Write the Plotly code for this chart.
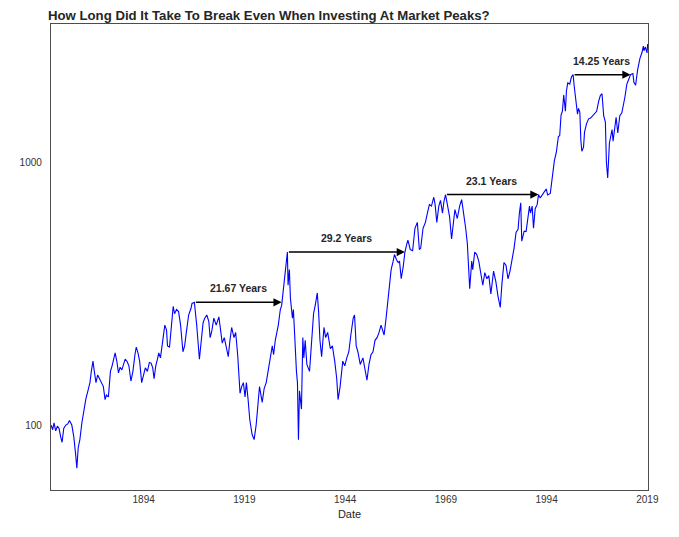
import math
import plotly.graph_objects as go

dates_1871 = ["1871-01", "1871-06", "1871-10", "1872-03", "1872-08", "1873-01", "1873-06", "1873-10",
              "1874-03", "1874-09", "1875-03", "1875-08", "1876-03", "1876-09", "1877-03", "1877-06",
              "1877-10", "1878-03", "1878-09", "1879-03", "1879-09", "1880-03", "1880-09", "1881-01",
              "1881-06", "1881-10", "1882-03", "1882-08", "1883-01", "1883-06", "1884-01", "1884-06",
              "1884-10", "1885-04", "1885-10", "1886-03", "1886-08", "1886-12", "1887-05", "1887-10",
              "1888-03", "1888-08", "1889-01", "1889-06", "1889-12", "1890-05", "1890-11", "1891-05",
              "1891-11", "1892-03", "1892-08", "1893-01", "1893-07", "1893-12", "1894-06", "1894-12",
              "1895-06", "1895-11", "1896-04", "1896-08", "1897-01", "1897-06", "1897-10", "1898-03",
              "1898-08", "1898-12", "1899-04", "1899-09", "1899-12", "1900-06", "1900-12"]
price_1871 = [100, 96, 102, 95, 99, 97, 90, 86,
              97, 100, 101, 104, 100, 90, 76, 68.5,
              82, 88, 102, 115, 126, 135, 145, 160,
              175, 160, 145, 155, 150, 147, 140, 125,
              130, 128, 160, 168, 180, 188, 175, 158,
              166, 162, 170, 178, 174, 168, 147, 160,
              185, 198, 188, 175, 145, 155, 165, 160,
              173, 172, 165, 150, 168, 178, 188, 180,
              205, 225, 240, 230, 200, 198, 245]

dates_1901 = ["1901-05", "1901-09", "1902-03", "1902-09", "1903-03", "1903-10", "1904-03", "1904-09",
              "1905-03", "1905-10", "1906-01", "1906-08", "1907-03", "1907-11", "1908-04", "1908-10",
              "1909-03", "1909-09", "1910-03", "1910-07", "1910-12", "1911-06", "1912-01", "1912-09",
              "1913-03", "1913-07", "1914-01", "1914-07", "1915-01", "1915-06", "1915-11", "1916-06",
              "1916-11", "1917-05", "1917-12", "1918-05", "1918-10", "1919-03", "1919-07", "1919-12",
              "1920-05", "1920-12", "1921-06", "1921-12", "1922-06", "1922-10", "1923-06", "1923-12",
              "1924-06", "1924-12", "1925-06", "1925-12", "1926-04", "1926-09", "1927-06", "1927-12",
              "1928-04", "1928-10", "1929-02", "1929-09", "1929-11", "1930-03", "1930-06", "1930-12",
              "1931-03", "1931-06", "1931-12", "1932-03", "1932-06", "1932-09", "1932-12", "1933-03",
              "1933-07", "1933-10", "1934-02", "1934-07", "1935-03", "1935-08", "1936-03", "1936-09",
              "1937-02", "1937-06", "1937-10", "1938-03", "1938-10", "1939-03", "1939-09", "1940-05",
              "1940-11", "1941-06", "1941-12", "1942-04", "1942-10", "1943-06", "1943-12", "1944-06",
              "1944-12", "1945-06"]
price_1901 = [283, 265, 275, 270, 240, 190, 200, 230,
              262, 278, 290, 293, 240, 178, 205, 245,
              255, 262, 248, 215, 228, 255, 240, 258,
              225, 205, 215, 195, 182, 210, 235, 215,
              225, 185, 132, 140, 145, 128, 145, 125,
              105, 92, 88, 100, 120, 140, 122, 138,
              145, 160, 175, 200, 185, 210, 240, 275,
              285, 330, 370, 455, 340, 390, 305, 255,
              275, 225, 160, 145, 88, 135, 120, 115,
              215, 180, 210, 170, 160, 205, 265, 290,
              318, 270, 210, 182, 235, 215, 225, 195,
              200, 175, 150, 125, 140, 175, 168, 180,
              190, 220]

dates_1946 = ["1946-01", "1946-05", "1946-10", "1947-03", "1947-10", "1948-06", "1948-12", "1949-06",
              "1949-12", "1950-06", "1950-12", "1951-06", "1951-12", "1952-06", "1952-12", "1953-06",
              "1953-09", "1954-03", "1954-08", "1954-12", "1955-06", "1955-12", "1956-04", "1956-10",
              "1957-03", "1957-07", "1957-12", "1958-06", "1958-11", "1959-05", "1959-08", "1960-03",
              "1960-10", "1961-05", "1961-12", "1962-06", "1962-10", "1963-05", "1963-12", "1964-06",
              "1964-12", "1965-06", "1966-01", "1966-05", "1966-10", "1967-04", "1967-09", "1968-03",
              "1968-07", "1968-12", "1969-06", "1969-12", "1970-06", "1970-12", "1971-04", "1971-11",
              "1972-06", "1972-12", "1973-06", "1973-12", "1974-05", "1974-09", "1974-12", "1975-06",
              "1975-09", "1976-03", "1976-09", "1977-03", "1977-10", "1978-03", "1978-09", "1979-03",
              "1979-09", "1980-03", "1980-11", "1981-06", "1981-12", "1982-07", "1982-12", "1983-06",
              "1983-12", "1984-06", "1984-12", "1985-06", "1985-12", "1986-06", "1986-12", "1987-04",
              "1987-08", "1987-11", "1988-06", "1988-12", "1989-06", "1989-10", "1990-01", "1990-06",
              "1990-10", "1991-03", "1991-09", "1991-12"]
price_1946 = [255, 262, 200, 190, 170, 180, 160, 148,
              170, 185, 190, 210, 215, 225, 240, 225,
              220, 255, 300, 340, 390, 420, 445, 425,
              415, 420, 360, 400, 455, 490, 505, 465,
              460, 560, 590, 465, 470, 560, 590, 640,
              690, 680, 735, 690, 590, 680, 715, 640,
              705, 752, 680, 620, 510, 585, 660, 610,
              680, 720, 640, 560, 490, 360, 330, 420,
              390, 455, 445, 420, 370, 340, 380, 360,
              370, 315, 385, 350, 310, 280, 345, 415,
              405, 360, 385, 420, 470, 540, 555, 640,
              700, 500, 545, 545, 620, 680, 640, 680,
              560, 665, 690, 720]

dates_1992 = ["1992-01", "1992-06", "1992-12", "1993-06", "1993-12", "1994-04", "1994-12", "1995-06",
              "1995-12", "1996-06", "1996-12", "1997-04", "1997-08", "1997-12", "1998-04", "1998-09",
              "1998-12", "1999-04", "1999-10", "2000-03", "2000-08", "2000-11", "2001-04", "2001-09",
              "2001-12", "2002-04", "2002-07", "2002-10", "2003-03", "2003-06", "2003-12", "2004-06",
              "2004-12", "2005-06", "2005-12", "2006-06", "2006-12", "2007-05", "2007-10", "2008-03",
              "2008-08", "2008-11", "2009-03", "2009-08", "2010-04", "2010-07", "2011-04", "2011-09",
              "2012-03", "2012-09", "2013-06", "2013-12", "2014-06", "2014-11", "2015-06", "2015-09",
              "2016-02", "2016-08", "2017-03", "2017-09", "2018-01", "2018-03", "2018-07", "2018-12",
              "2019-02"]
price_1992 = [752, 730, 755, 770, 790, 750, 760, 880,
              1010, 1090, 1250, 1260, 1510, 1560, 1800, 1560,
              1860, 2000, 1980, 2110, 2150, 1950, 1700, 1520,
              1600, 1550, 1210, 1100, 1140, 1300, 1400, 1460,
              1470, 1500, 1530, 1560, 1700, 1790, 1820, 1500,
              1420, 1000, 870, 1180, 1330, 1200, 1480, 1290,
              1500, 1540, 1760, 1980, 2070, 2150, 2170, 2010,
              1960, 2240, 2480, 2610, 2760, 2650, 2740, 2600,
              2812]

# market peaks and the month the price got back to them
peak_dates = ["1906-08", "1929-09", "1968-12", "2000-08"]
recovery_dates = ["1928-04", "1958-11", "1992-01", "2014-11"]
labels = ["21.67 Years", "29.2 Years", "23.1 Years", "14.25 Years"]

tick_years = [1894, 1919, 1944, 1969, 1994, 2019]

dates = dates_1871 + dates_1901 + dates_1946 + dates_1992
price = price_1871 + price_1901 + price_1946 + price_1992
lookup = dict(zip(dates, price))

fig = go.Figure()
fig.add_trace(go.Scatter(x=dates, y=price, mode="lines",
                         line=dict(color="#0000ff", width=1.1), showlegend=False))


def mid_date(a, b):
    ya, ma = int(a[:4]), int(a[5:])
    yb, mb = int(b[:4]), int(b[5:])
    n = ((ya * 12 + ma - 1) + (yb * 12 + mb - 1)) // 2
    return "%d-%02d" % (n // 12, n % 12 + 1)


annotations = []
for p, r, lab in zip(peak_dates, recovery_dates, labels):
    level = math.log10(lookup[p])
    annotations.append(dict(x=r, y=level, ax=p, ay=level, xref="x", yref="y", axref="x", ayref="y",
                            text="", showarrow=True, arrowhead=2, arrowsize=1.1,
                            arrowwidth=1.5, arrowcolor="black"))
    annotations.append(dict(x=mid_date(p, r), y=level, xref="x", yref="y", text="<b>" + lab + "</b>",
                            showarrow=False, yshift=14,
                            font=dict(family="Liberation Sans, Arial, sans-serif", size=10.5, color="#262626")))

# the page body adds an 8px offset, so margins are shifted to compensate
fig.update_layout(
    width=679, height=537,
    margin=dict(l=40, r=39, t=16, b=55),
    paper_bgcolor="white", plot_bgcolor="white",
    title=dict(text="How Long Did It Take To Break Even When Investing At Market Peaks?",
               x=40 / 679, xanchor="left", y=1 - 7 / 537, yanchor="middle",
               font=dict(family="Liberation Sans, Arial, sans-serif", size=13.2, color="#262626",
                         weight="bold")),
    font=dict(family="Liberation Sans, Arial, sans-serif", size=10, color="#333333"),
    xaxis=dict(type="date", range=["1871-01-01", "2019-03-01"],
               tickvals=["%d-01-01" % y for y in tick_years], ticktext=[str(y) for y in tick_years],
               showgrid=False, zeroline=False, showline=True, mirror=True,
               linecolor="#4d4d4d", linewidth=1.3, ticks="",
               title=dict(text="Date", font=dict(size=11, color="#262626"), standoff=6)),
    yaxis=dict(type="log", range=[1.753, 3.525], tickvals=[100, 1000], ticktext=["100", "1000"],
               showgrid=False, zeroline=False, showline=True, mirror=True,
               linecolor="#4d4d4d", linewidth=1.3, ticks="", ticklabelstandoff=6),
    annotations=annotations,
)

fig.write_html("out.html")
